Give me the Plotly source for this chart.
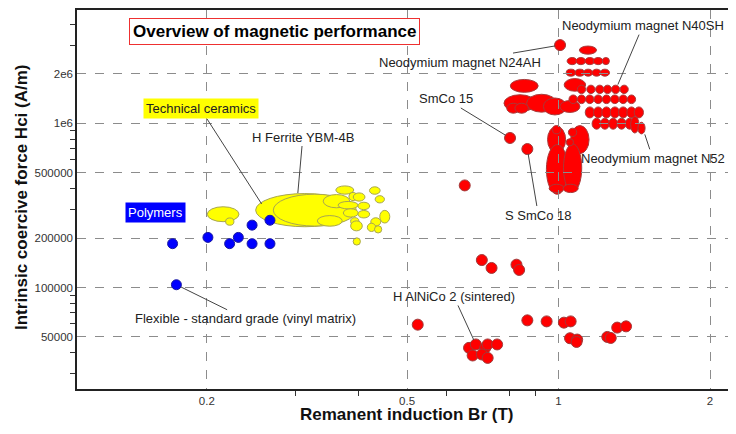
import numpy as np
import plotly.graph_objects as go

# ---------------- data ----------------
# Polymers (individual grades)
poly_br = [0.171, 0.201, 0.222, 0.231, 0.246, 0.246, 0.267, 0.267, 0.174]
poly_hci = [185000, 202000, 185000, 202000, 185000, 240000, 185000, 257000, 104000]

# Metals - individual grades (points)
met_br = [0.704, 0.736, 0.825, 0.835, 0.525, 0.867, 0.947, 1.025, 1.057, 1.054, 1.089, 1.086,
          1.250, 1.270, 1.308, 1.362, 0.664, 0.685, 0.715, 0.723, 0.755, 0.675, 0.704, 0.723,
          0.651, 0.801, 0.867, 1.007]
met_hci = [147000, 131600, 137800, 128000, 59400, 63100, 62200, 61100, 62200, 49100, 48200, 46600,
           50000, 49300, 57000, 58000, 42900, 45000, 42900, 45000, 45000, 38550, 39100, 37270,
           419000, 815000, 698000, 3000000]

# Technical ceramics - property ranges (ellipses)
cer_br_lo = [0.2004, 0.2180, 0.2501, 0.2711, 0.3316, 0.3406, 0.3609, 0.3832, 0.3909, 0.3647, 0.3993,
             0.3735, 0.3993, 0.3862, 0.3862, 0.4210, 0.4321, 0.4413, 0.4235, 0.4169, 0.4307, 0.3907]
cer_br_hi = [0.2317, 0.2264, 0.3921, 0.3963, 0.3717, 0.3847, 0.3918, 0.3980, 0.4124, 0.3996, 0.4214,
             0.3999, 0.4214, 0.4011, 0.4074, 0.4420, 0.4508, 0.4620, 0.4433, 0.4331, 0.4453, 0.4039]
cer_hci_lo = [251900, 239700, 234700, 236800, 236400, 306100, 370600, 338400, 336000, 301400, 298100,
              268700, 265400, 240700, 221500, 370000, 327700, 247200, 237000, 219500, 215000, 181400]
cer_hci_hi = [310600, 265400, 373700, 370300, 274400, 368500, 416000, 379900, 377200, 334600, 330900,
              301900, 294800, 266500, 254700, 410800, 362900, 295200, 266100, 246500, 238000, 200800]

# Metals - property ranges (ellipses)
met_br_lo = [0.802, 0.779, 0.864, 0.933, 1.006, 0.789, 0.819,
             0.951, 1.057, 0.946, 1.023, 0.973, 1.046, 1.036, 0.958, 1.021,
             1.100,
             1.040, 1.083, 1.128, 1.172, 1.222,
             1.036, 1.079, 1.121, 1.165, 1.210,
             1.026,
             1.090, 1.138, 1.185, 1.228, 1.274, 1.325,
             1.049, 1.090, 1.132, 1.176, 1.222, 1.269, 1.319, 1.370,
             1.130, 1.174, 1.219, 1.267, 1.316, 1.367, 1.414,
             1.166, 1.211, 1.258, 1.307, 1.357, 1.391, 1.438]
met_br_hi = [0.911, 0.902, 0.991, 1.037, 1.103, 0.838, 0.871,
             1.033, 1.150, 1.044, 1.112, 1.010, 1.087, 1.071, 1.026, 1.094,
             1.190,
             1.089, 1.133, 1.181, 1.226, 1.262,
             1.081, 1.126, 1.170, 1.216, 1.263,
             1.132,
             1.132, 1.182, 1.231, 1.275, 1.323, 1.376,
             1.090, 1.132, 1.176, 1.222, 1.269, 1.319, 1.370, 1.423,
             1.179, 1.224, 1.272, 1.322, 1.373, 1.426, 1.475,
             1.215, 1.262, 1.310, 1.362, 1.414, 1.445, 1.486]
met_hci_lo = [1546000, 1179000, 1171000, 1126000, 1166000, 1154000, 1154000,
              661000, 654000, 370000, 383000, 864000, 832000, 729000, 379000, 379000,
              2640000,
              2280000, 2280000, 2280000, 2280000, 2280000,
              1940000, 1940000, 1940000, 1940000, 1940000,
              1571000,
              1520000, 1520000, 1520000, 1520000, 1520000, 1520000,
              1320000, 1320000, 1320000, 1320000, 1320000, 1320000, 1320000, 1320000,
              1080000, 1080000, 1080000, 1080000, 1080000, 1080000, 1080000,
              922000, 922000, 922000, 922000, 922000, 874000, 863000]
met_hci_hi = [1853000, 1495000, 1505000, 1428000, 1378000, 1327000, 1327000,
              960000, 970000, 743000, 751000, 970000, 935000, 807000, 426000, 426000,
              2960000,
              2520000, 2520000, 2520000, 2520000, 2520000,
              2140000, 2140000, 2140000, 2140000, 2140000,
              1875000,
              1710000, 1710000, 1710000, 1710000, 1710000, 1710000,
              1490000, 1490000, 1490000, 1490000, 1490000, 1490000, 1490000, 1490000,
              1260000, 1260000, 1260000, 1260000, 1260000, 1260000, 1260000,
              1075000, 1075000, 1075000, 1075000, 1075000, 1103000, 1016000]

# Labelled materials: (label, Br, Hci)
lab_text = ["Technical ceramics", "H Ferrite YBM-4B", "Flexible - standard grade (vinyl matrix)",
            "Neodymium magnet N24AH", "Neodymium magnet N40SH", "SmCo 15", "S SmCo 18",
            "Neodymium magnet N52", "H AlNiCo 2 (sintered)"]
lab_br = [0.257, 0.3033, 0.174, 1.007, 1.312, 0.801, 0.867, 1.484, 0.685]
lab_hci = [323000, 376500, 104000, 3000000, 1723000, 815000, 698000, 857700, 45000]

# Axis ticks
x_tick_vals = [0.2, 0.5, 1, 2]
x_tick_text = ["0.2", "0.5", "1", "2"]
x_minor_vals = [0.3, 0.4, 0.6, 0.8, 0.9]
y_tick_vals = [50000, 100000, 200000, 500000, 1000000, 2000000]
y_tick_text = ["50000", "100000", "200000", "500000", "1e6", "2e6"]
y_minor_vals = [30000, 40000, 60000, 70000, 80000, 90000,
                300000, 400000, 600000, 700000, 800000, 900000,
                3000000, 4000000]

FONT = "Arial, Liberation Sans, sans-serif"

fig = go.Figure()

shapes = []
for lo, hi, ylo, yhi in zip(cer_br_lo, cer_br_hi, cer_hci_lo, cer_hci_hi):
    shapes.append(dict(type="circle", xref="x", yref="y", x0=lo, x1=hi, y0=ylo, y1=yhi,
                       fillcolor="#ffff00", line=dict(color="#a8a650", width=1), layer="below"))
for lo, hi, ylo, yhi in zip(met_br_lo, met_br_hi, met_hci_lo, met_hci_hi):
    shapes.append(dict(type="circle", xref="x", yref="y", x0=lo, x1=hi, y0=ylo, y1=yhi,
                       fillcolor="#ff0000", line=dict(color="#a83a3a", width=1), layer="below"))

fig.add_trace(go.Scatter(x=poly_br, y=poly_hci, mode="markers", hoverinfo="x+y",
                         marker=dict(size=10, color="#0000ff", line=dict(color="#1a1aa0", width=1)),
                         showlegend=False))
fig.add_trace(go.Scatter(x=met_br, y=met_hci, mode="markers", hoverinfo="x+y",
                         marker=dict(size=11, color="#ff0000", line=dict(color="#a03a3a", width=1)),
                         showlegend=False))

# label offsets (pixels) and styling
offs = [(-61, -95), (5, -56), (69, 34), (-100, 17), (25, -59), (-64, -39), (11, 66), (8, 24), (-22, -48)]
stand = [0, 0, 5, 5, 0, 5, 5, 0, 5]
annotations = []
for i, (t, bx, hy) in enumerate(zip(lab_text, lab_br, lab_hci)):
    a = dict(x=np.log10(bx), y=np.log10(hy), xref="x", yref="y", text=t,
             showarrow=True, arrowhead=0, arrowwidth=1, arrowcolor="#444444",
             ax=offs[i][0], ay=offs[i][1], standoff=stand[i],
             font=dict(family=FONT, size=13, color="#222222"))
    if t == "Technical ceramics":
        a.update(bgcolor="#ffff00", borderpad=2)
    annotations.append(a)

annotations.append(dict(x=0.1206, y=0.4659, xref="paper", yref="paper", text="Polymers",
                        showarrow=False, bgcolor="#0000ff", borderpad=2,
                        xanchor="center", yanchor="middle",
                        font=dict(family=FONT, size=13, color="#ffffff")))
annotations.append(dict(x=0.3041, y=0.9423, xref="paper", yref="paper",
                        text="<b>Overview of magnetic performance</b>", showarrow=False,
                        xanchor="center", yanchor="middle",
                        bgcolor="#ffffff", bordercolor="#ee3030", borderwidth=1, borderpad=3,
                        font=dict(family=FONT, size=17, color="#000000")))
annotations.append(dict(x=0.5069, y=-0.0682, xref="paper", yref="paper",
                        text="<b>Remanent induction Br (T)</b>", showarrow=False,
                        xanchor="center", yanchor="middle",
                        font=dict(family=FONT, size=17, color="#111111")))
annotations.append(dict(x=-0.0845, y=0.5066, xref="paper", yref="paper",
                        text="<b>Intrinsic coercive force Hci (A/m)</b>", showarrow=False,
                        textangle=-90, xanchor="center", yanchor="middle",
                        font=dict(family=FONT, size=17, color="#111111")))

fig.update_layout(
    width=720, height=418,
    margin=dict(l=69, r=0, t=0, b=37),
    paper_bgcolor="white", plot_bgcolor="white",
    shapes=shapes, annotations=annotations,
    showlegend=False,
    xaxis=dict(type="log", range=[-0.957, 0.3368], tickmode="array",
               tickvals=x_tick_vals, ticktext=x_tick_text, ticks="",
               showgrid=True, gridcolor="#8c8c8c", griddash="dash", gridwidth=1,
               showline=True, linecolor="#222222", linewidth=1.5, mirror=True, zeroline=False,
               tickfont=dict(family=FONT, size=11.5, color="#333333"),
               minor=dict(tickmode="array", tickvals=x_minor_vals, ticks="outside",
                          ticklen=5, tickcolor="#333333", showgrid=False)),
    yaxis=dict(type="log", range=[4.3818, 6.6909], tickmode="array",
               tickvals=y_tick_vals, ticktext=y_tick_text, ticks="",
               showgrid=True, gridcolor="#8c8c8c", griddash="dash", gridwidth=1,
               showline=True, linecolor="#222222", linewidth=1.5, zeroline=False,
               tickfont=dict(family=FONT, size=11.5, color="#333333"),
               minor=dict(tickmode="array", tickvals=y_minor_vals, ticks="outside",
                          ticklen=5, tickcolor="#333333", showgrid=False)),
)

fig.write_html("out.html")
